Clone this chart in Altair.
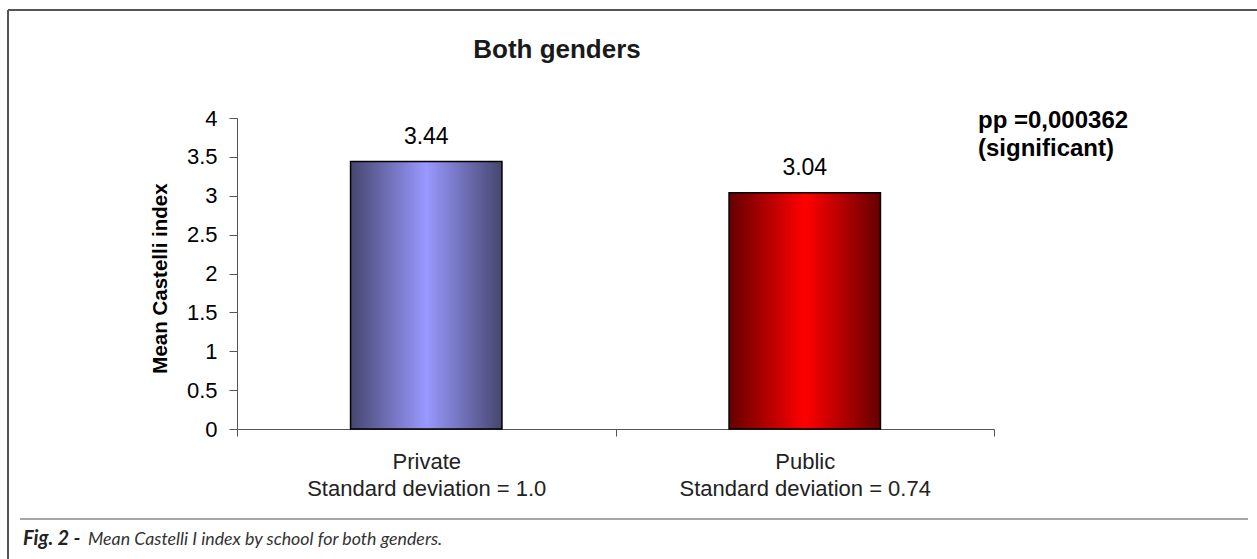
import altair as alt
import pandas as pd

# Mean Castelli I index by school type (both genders)
schools = ["Private", "Public"]
mean_index = [3.44, 3.04]
std_devs = ["1.0", "0.74"]
y_ticks = [0, 0.5, 1, 1.5, 2, 2.5, 3, 3.5, 4]

chart_title = "Both genders"
p_lines = ["pp =0,000362", "(significant)"]
caption_bold = "Fig. 2 -"
caption_text = "Mean Castelli I index by school for both genders."

W, H = 757, 311
FONT = "Liberation Sans"

df = pd.DataFrame({
    "school": schools,
    "mean": mean_index,
    "label": [f"{s}|Standard deviation = {sd}" for s, sd in zip(schools, std_devs)],
})

x_enc = alt.X(
    "label:N",
    sort=None,
    scale=alt.Scale(paddingInner=0, paddingOuter=0),
    axis=alt.Axis(
        title=None,
        labelAngle=0,
        labelExpr="split(datum.label, '|')",
        labelFontSize=22,
        labelLineHeight=27,
        labelColor="#222222",
        labelFont=FONT,
        labelPadding=15,
        labelLimit=600,
        tickBand="extent",
        tickSize=7,
        tickColor="#555555",
        domainColor="#555555",
        labelBaseline="top",
    ),
)
y_enc = alt.Y(
    "mean:Q",
    scale=alt.Scale(domain=[0, 4], nice=False),
    axis=alt.Axis(
        title="Mean Castelli index",
        values=y_ticks,
        format="~g",
        grid=False,
        labelFontSize=22,
        labelFont=FONT,
        labelColor="#000000",
        labelPadding=12,
        tickSize=8,
        tickColor="#555555",
        domainColor="#555555",
        titleFont=FONT,
        titleFontSize=20.5,
        titleFontWeight="bold",
        titleColor="#000000",
        titleAngle=270,
        titleX=-77,
        titleY=160,
        titleAlign="center",
        titleBaseline="middle",
    ),
)


def shade(edge, centre):
    return alt.LinearGradient(
        gradient="linear",
        x1=0, x2=1, y1=0, y2=0,
        stops=[
            alt.GradientStop(offset=0, color=edge),
            alt.GradientStop(offset=0.5, color=centre),
            alt.GradientStop(offset=1, color=edge),
        ],
    )


base = alt.Chart(df)

bar_private = base.transform_filter("datum.school == 'Private'").mark_bar(
    width=alt.RelativeBandSize(0.4),
    color=shade("#46466f", "#9999ff"),
    stroke="#000000",
    strokeWidth=1.5,
).encode(x=x_enc, y=y_enc)

bar_public = base.transform_filter("datum.school == 'Public'").mark_bar(
    width=alt.RelativeBandSize(0.4),
    color=shade("#650000", "#ff0000"),
    stroke="#000000",
    strokeWidth=1.5,
).encode(x=x_enc, y=y_enc)

values = base.mark_text(
    font=FONT, fontSize=23, color="#000000", baseline="alphabetic", dy=-18
).encode(x=x_enc, y=y_enc, text=alt.Text("mean:Q", format=".2f"))

one = pd.DataFrame({"k": [0]})

title_mark = alt.Chart(pd.DataFrame({"t": [chart_title]})).mark_text(
    font=FONT, fontSize=26, fontWeight="bold", color="#1a1a1a",
    align="center", baseline="alphabetic",
).encode(x=alt.value(320), y=alt.value(-60), text="t:N")

p_note = alt.Chart(pd.DataFrame({"t": [p_lines]})).mark_text(
    font=FONT, fontSize=24, fontWeight="bold", color="#000000",
    align="left", baseline="alphabetic", lineHeight=28,
).encode(x=alt.value(741), y=alt.value(10), text="t")

# frame around the figure and caption separator
frame_top = alt.Chart(one).mark_rule(color="#555555", strokeWidth=2).encode(
    x=alt.value(-229), x2=alt.value(1020), y=alt.value(-108))
frame_left = alt.Chart(one).mark_rule(color="#555555", strokeWidth=2).encode(
    x=alt.value(-229), y=alt.value(-108), y2=alt.value(441))
separator = alt.Chart(one).mark_rule(color="#8a8a8a", strokeWidth=1.5).encode(
    x=alt.value(-217), x2=alt.value(1011), y=alt.value(401))

cap_b = alt.Chart(pd.DataFrame({"t": [caption_bold]})).mark_text(
    font="Lato", fontSize=20, fontStyle="italic", fontWeight="bold",
    color="#222222", align="left", baseline="alphabetic",
).encode(x=alt.value(-214), y=alt.value(427), text="t:N")
cap_t = alt.Chart(pd.DataFrame({"t": [caption_text]})).mark_text(
    font="Lato", fontSize=17.8, fontStyle="italic",
    color="#333333", align="left", baseline="alphabetic",
).encode(x=alt.value(-149), y=alt.value(427), text="t:N")

chart = alt.layer(
    bar_private, bar_public, values, title_mark, p_note,
    frame_top, frame_left, separator, cap_b, cap_t,
).properties(
    width=W, height=H,
    autosize=alt.AutoSizeParams(type="none"),
    padding={"left": 237, "top": 118, "right": 263, "bottom": 130},
    background="#ffffff",
).configure_view(stroke=None)

chart.save("out.html", embed_options={"renderer": "svg", "actions": False})
